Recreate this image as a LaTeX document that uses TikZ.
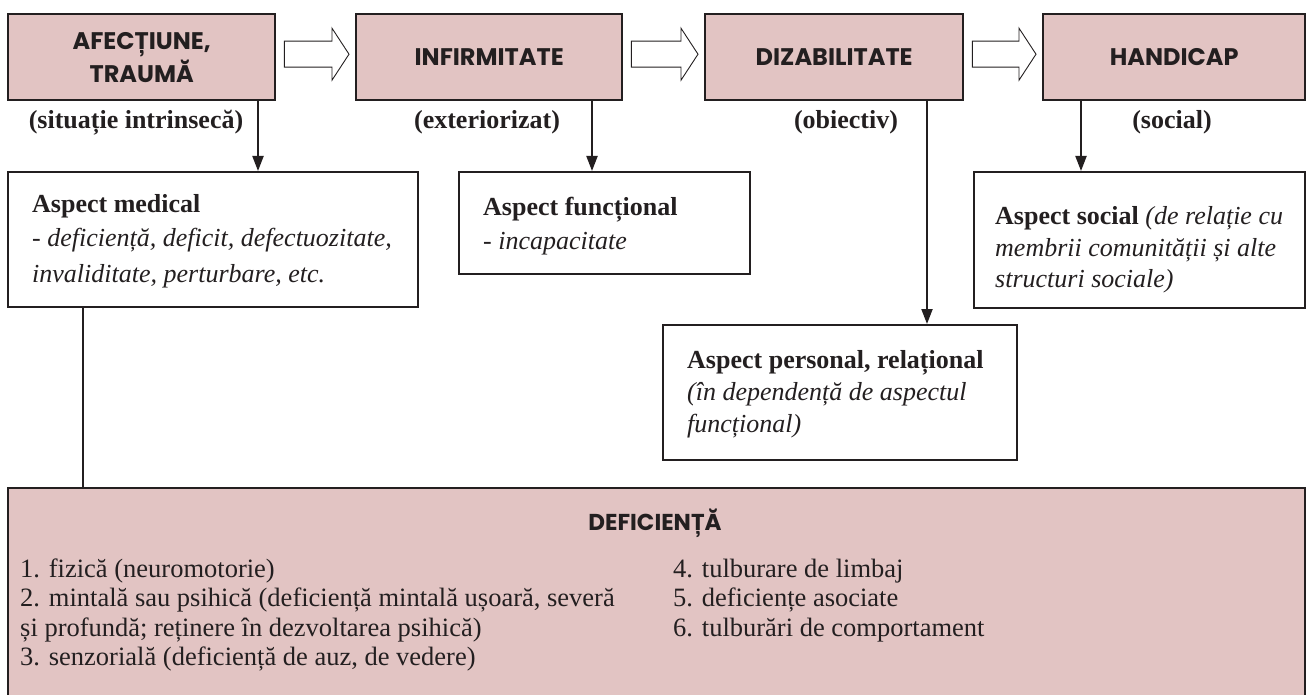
\documentclass[tikz,border=0pt]{standalone}
\usepackage{fontspec}
\setmainfont{Liberation Serif}
\newfontfamily\headfont{Poppins}
\usetikzlibrary{arrows.meta,calc}

\definecolor{boxpink}{RGB}{226,196,195}
\definecolor{ink}{RGB}{35,31,32}

\tikzset{
  headbox/.style={draw=ink, line width=2.4pt, fill=boxpink, anchor=north west,
    inner sep=0pt, align=center,
    font=\headfont\bfseries\fontsize{24}{33}\selectfont, text=ink},
  aspectbox/.style={draw=ink, line width=2.4pt, fill=white, anchor=north west,
    inner sep=0pt},
  line/.style={anchor=base west, inner sep=0pt, text=ink,
    font=\fontsize{26}{30}\selectfont},
  listline/.style={anchor=base west, inner sep=0pt, text=ink,
    font=\fontsize{26.5}{29}\selectfont},
  tag/.style={anchor=base, inner sep=0pt, text=ink,
    font=\bfseries\fontsize{26}{30}\selectfont},
  fatarrow/.style={draw=ink, line width=0.9pt, fill=white, line join=miter},
  downarrow/.style={draw=ink, line width=2pt,
    -{Triangle[length=15pt,width=11pt]}},
}

\begin{document}
\begin{tikzpicture}[x=1pt,y=-1pt]
\useasboundingbox (0,0) rectangle (1306,695);

% stage boxes
\node[headbox, minimum width=267, minimum height=86] (h1) at (7,13) {AFECȚIUNE,\\TRAUMĂ};
\node[headbox, minimum width=266, minimum height=86] (h2) at (355,13) {INFIRMITATE};
\node[headbox, minimum width=258, minimum height=86] (h3) at (704,13) {DIZABILITATE};
\node[headbox, minimum width=262, minimum height=86] (h4) at (1042,13) {HANDICAP};

% hollow block arrows between the stages
\foreach \s/\t in {h1/h2, h2/h3, h3/h4}{
  \draw[fatarrow]
    let \p1=($(\s.east)+(8,-3)$), \p2=($(\t.west)+(-6,-3)$) in
    (\x1,\y1+13pt) -- (\x2-17pt,\y1+13pt) -- (\x2-17pt,\y1+26pt) --
    (\x2,\y1) -- (\x2-17pt,\y1-26pt) -- (\x2-17pt,\y1-13pt) --
    (\x1,\y1-13pt) -- cycle;
}

% characterisation of each stage
\node[tag] (t1) at (136,129) {(situație intrinsecă)};
\node[tag] (t2) at (487,129) {(exteriorizat)};
\node[tag] (t3) at (846,129) {(obiectiv)};
\node[tag] (t4) at (1172,129) {(social)};

% aspect boxes
\node[aspectbox, minimum width=410, minimum height=135] (med) at (7,171) {};
\node[aspectbox, minimum width=291, minimum height=102] (fun) at (458,171) {};
\node[aspectbox, minimum width=331, minimum height=136] (soc) at (973,171) {};
\node[aspectbox, minimum width=354, minimum height=135] (per) at (662,324) {};

\node[line] (med1) at (32,212) {\textbf{Aspect medical}};
\node[line] (med2) at (32,247) {\textit{- deficiență, deficit, defectuozitate,}};
\node[line] (med3) at (32,282) {\textit{invaliditate, perturbare, etc.}};

\node[line] (fun1) at (483,215) {\textbf{Aspect funcțional}};
\node[line] (fun2) at (483,249) {\textit{- incapacitate}};

\node[line] (soc1) at (995,225) {\textbf{Aspect social} \textit{(de relație cu}};
\node[line] (soc2) at (995,256) {\textit{membrii comunității și alte}};
\node[line] (soc3) at (995,287) {\textit{structuri sociale)}};

\node[line] (per1) at (687,368) {\textbf{Aspect personal, relațional}};
\node[line] (per2) at (687,400) {\textit{(în dependență de aspectul}};
\node[line] (per3) at (687,432) {\textit{funcțional)}};

% deficiency box
\node[aspectbox, fill=boxpink, minimum width=1297, minimum height=220] (def) at (7,487) {};
\node[anchor=center, inner sep=0pt, text=ink,
  font=\headfont\bfseries\fontsize{23}{25}\selectfont] (deft) at (655,523) {DEFICIENȚĂ};

\node[listline] (d1) at (20,577) {1. fizică (neuromotorie)};
\node[listline] (d2) at (20,606.5) {2. mintală sau psihică (deficiență mintală ușoară, severă};
\node[listline] (d2b) at (20,636) {și profundă; reținere în dezvoltarea psihică)};
\node[listline] (d3) at (20,665.5) {3. senzorială (deficiență de auz, de vedere)};
\node[listline] (d4) at (673,577) {4. tulburare de limbaj};
\node[listline] (d5) at (673,606.5) {5. deficiențe asociate};
\node[listline] (d6) at (673,636) {6. tulburări de comportament};

% connectors
\coordinate (c1) at (258,0);
\coordinate (c2) at (592,0);
\coordinate (c3) at (927,0);
\coordinate (c4) at (1081,0);
\coordinate (c5) at (83,0);
\draw[downarrow] (h1.south -| c1) -- (med.north -| c1);
\draw[downarrow] (h2.south -| c2) -- (fun.north -| c2);
\draw[downarrow] (h3.south -| c3) -- (per.north -| c3);
\draw[downarrow] (h4.south -| c4) -- (soc.north -| c4);
\draw[draw=ink, line width=2pt] (med.south -| c5) -- (def.north -| c5);
\end{tikzpicture}
\end{document}
